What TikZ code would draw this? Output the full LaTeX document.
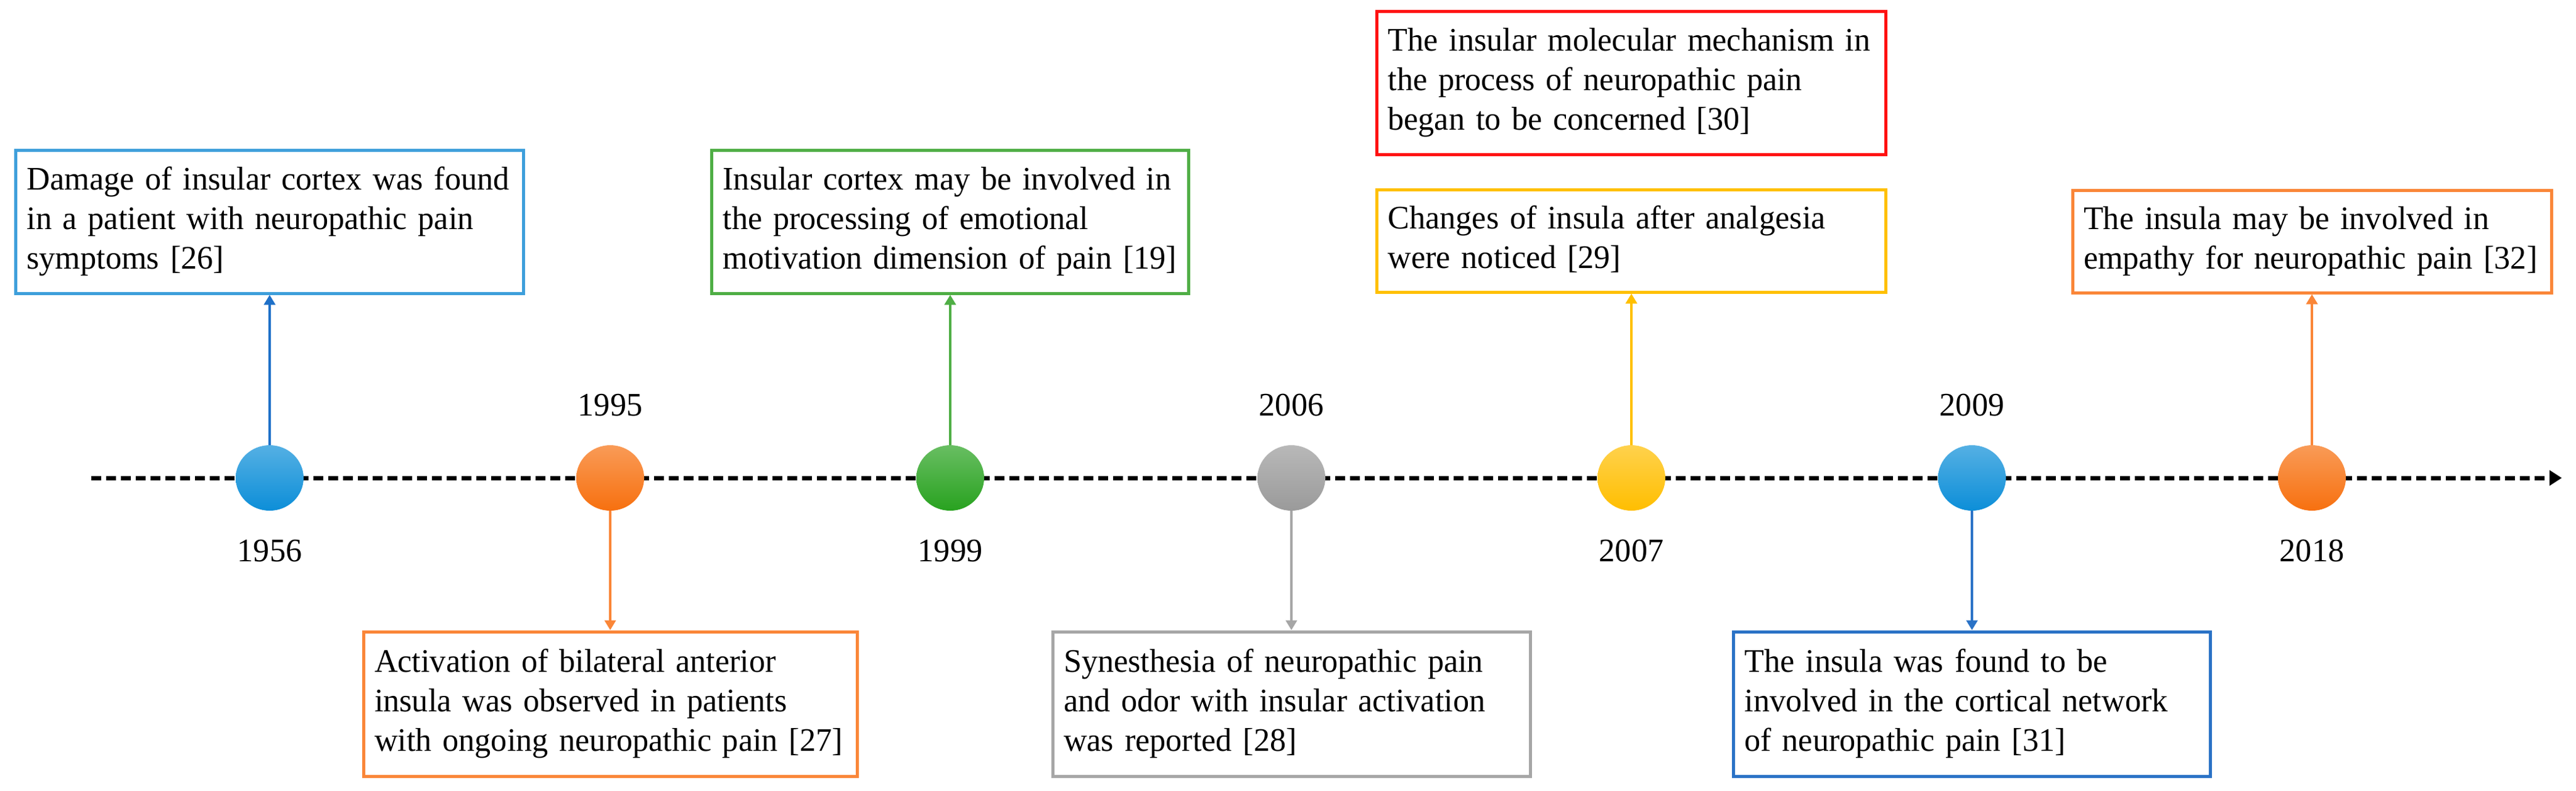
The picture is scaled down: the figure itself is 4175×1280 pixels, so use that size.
\documentclass[tikz,border=0pt]{standalone}
\usepackage{fontspec}
\setmainfont{Liberation Serif}[FakeStretch=0.98]
\usetikzlibrary{arrows.meta,shapes.geometric}

\definecolor{bluebox}{HTML}{3E9FDB}
\definecolor{bluearr}{HTML}{1E70C8}
\definecolor{bluedark}{HTML}{2A72C6}
\definecolor{bluedot}{HTML}{0C8ED8}
\definecolor{orangebox}{HTML}{FA8638}
\definecolor{orangedot}{HTML}{F7700F}
\definecolor{greenbox}{HTML}{4FAE45}
\definecolor{greendot}{HTML}{28A21F}
\definecolor{graybox}{HTML}{A6A6A6}
\definecolor{graydot}{HTML}{9A9A9A}
\definecolor{yellowbox}{HTML}{FFC000}
\definecolor{yellowdot}{HTML}{FFBE00}
\definecolor{redbox}{HTML}{FF1010}

\newcommand\bst{\rule[-13pt]{0pt}{51pt}}
\newcommand\evl[1]{\mbox{\bst #1}}

\tikzset{
  evbox/.style={draw=#1, line width=5pt, fill=white, inner xsep=18pt, inner ysep=0pt,
    align=left, font=\fontsize{53.3}{64}\selectfont},
  evdot/.style={ellipse, minimum width=110pt, minimum height=106pt, inner sep=0pt,
    top color=#1!70!white, bottom color=#1, draw=none},
  conn/.style={line width=4pt, draw=#1, -{Triangle[length=16pt,width=18pt]}},
  yearlbl/.style={font=\fontsize{53.3}{64}\selectfont, inner sep=0pt},
  axisline/.style={line width=7pt, dash pattern=on 16pt off 8pt, -{Triangle[length=20pt,width=24pt]}},
}

\begin{document}
\begin{tikzpicture}[x=1pt,y=-1pt]
\useasboundingbox (0,0) rectangle (4175,1280);

% axis
\coordinate (axs) at (148,774);
\coordinate (axe) at (4152,774);
\draw[axisline] (axs) -- (axe);

% dots
\node[evdot=bluedot]   (d1) at (437,774) {};
\node[evdot=orangedot] (d2) at (989,774) {};
\node[evdot=greendot]  (d3) at (1540,774) {};
\node[evdot=graydot]   (d4) at (2093,774) {};
\node[evdot=yellowdot] (d5) at (2644,774) {};
\node[evdot=bluedot]   (d6) at (3196,774) {};
\node[evdot=orangedot] (d7) at (3747,774) {};

% years
\node[yearlbl] (y1) at (437,892) {1956};
\node[yearlbl] (y2) at (989,656) {1995};
\node[yearlbl] (y3) at (1540,892) {1999};
\node[yearlbl] (y4) at (2093,656) {2006};
\node[yearlbl] (y5) at (2644,892) {2007};
\node[yearlbl] (y6) at (3196,656) {2009};
\node[yearlbl] (y7) at (3747,892) {2018};

% boxes
\node[evbox=bluebox, text width=787pt, minimum height=232pt] (b1) at (437,359)
  {\evl{Damage of insular cortex was found}\\\evl{in a patient with neuropathic pain}\\\evl{symptoms [26]}};
\node[evbox=orangebox, text width=764pt, minimum height=234pt] (b2) at (989,1140)
  {\evl{Activation of bilateral anterior}\\\evl{insula was observed in patients}\\\evl{with ongoing neuropathic pain [27]}};
\node[evbox=greenbox, text width=737pt, minimum height=232pt] (b3) at (1540,359)
  {\evl{Insular cortex may be involved in}\\\evl{the processing of emotional}\\\evl{motivation dimension of pain [19]}};
\node[evbox=graybox, text width=738pt, minimum height=234pt] (b4) at (2093,1140)
  {\evl{Synesthesia of neuropathic pain}\\\evl{and odor with insular activation}\\\evl{was reported [28]}};
\node[evbox=redbox, text width=789pt, minimum height=232pt] (b5r) at (2644,134)
  {\evl{The insular molecular mechanism in}\\\evl{the process of neuropathic pain}\\\evl{began to be concerned [30]}};
\node[evbox=yellowbox, text width=789pt, minimum height=166pt] (b5) at (2644,390)
  {\evl{Changes of insula after analgesia}\\\evl{were noticed [29]}};
\node[evbox=bluedark, text width=737pt, minimum height=234pt] (b6) at (3196,1140)
  {\evl{The insula was found to be}\\\evl{involved in the cortical network}\\\evl{of neuropathic pain [31]}};
\node[evbox=orangebox, text width=740pt, minimum height=166pt] (b7) at (3747,391)
  {\evl{The insula may be involved in}\\\evl{empathy for neuropathic pain [32]}};

% connectors
\draw[conn=bluearr]   (d1.north) -- (d1.north |- b1.south);
\draw[conn=orangebox] (d2.south) -- (d2.south |- b2.north);
\draw[conn=greenbox]  (d3.north) -- (d3.north |- b3.south);
\draw[conn=graybox]   (d4.south) -- (d4.south |- b4.north);
\draw[conn=yellowbox] (d5.north) -- (d5.north |- b5.south);
\draw[conn=bluedark]  (d6.south) -- (d6.south |- b6.north);
\draw[conn=orangebox] (d7.north) -- (d7.north |- b7.south);
\end{tikzpicture}
\end{document}
